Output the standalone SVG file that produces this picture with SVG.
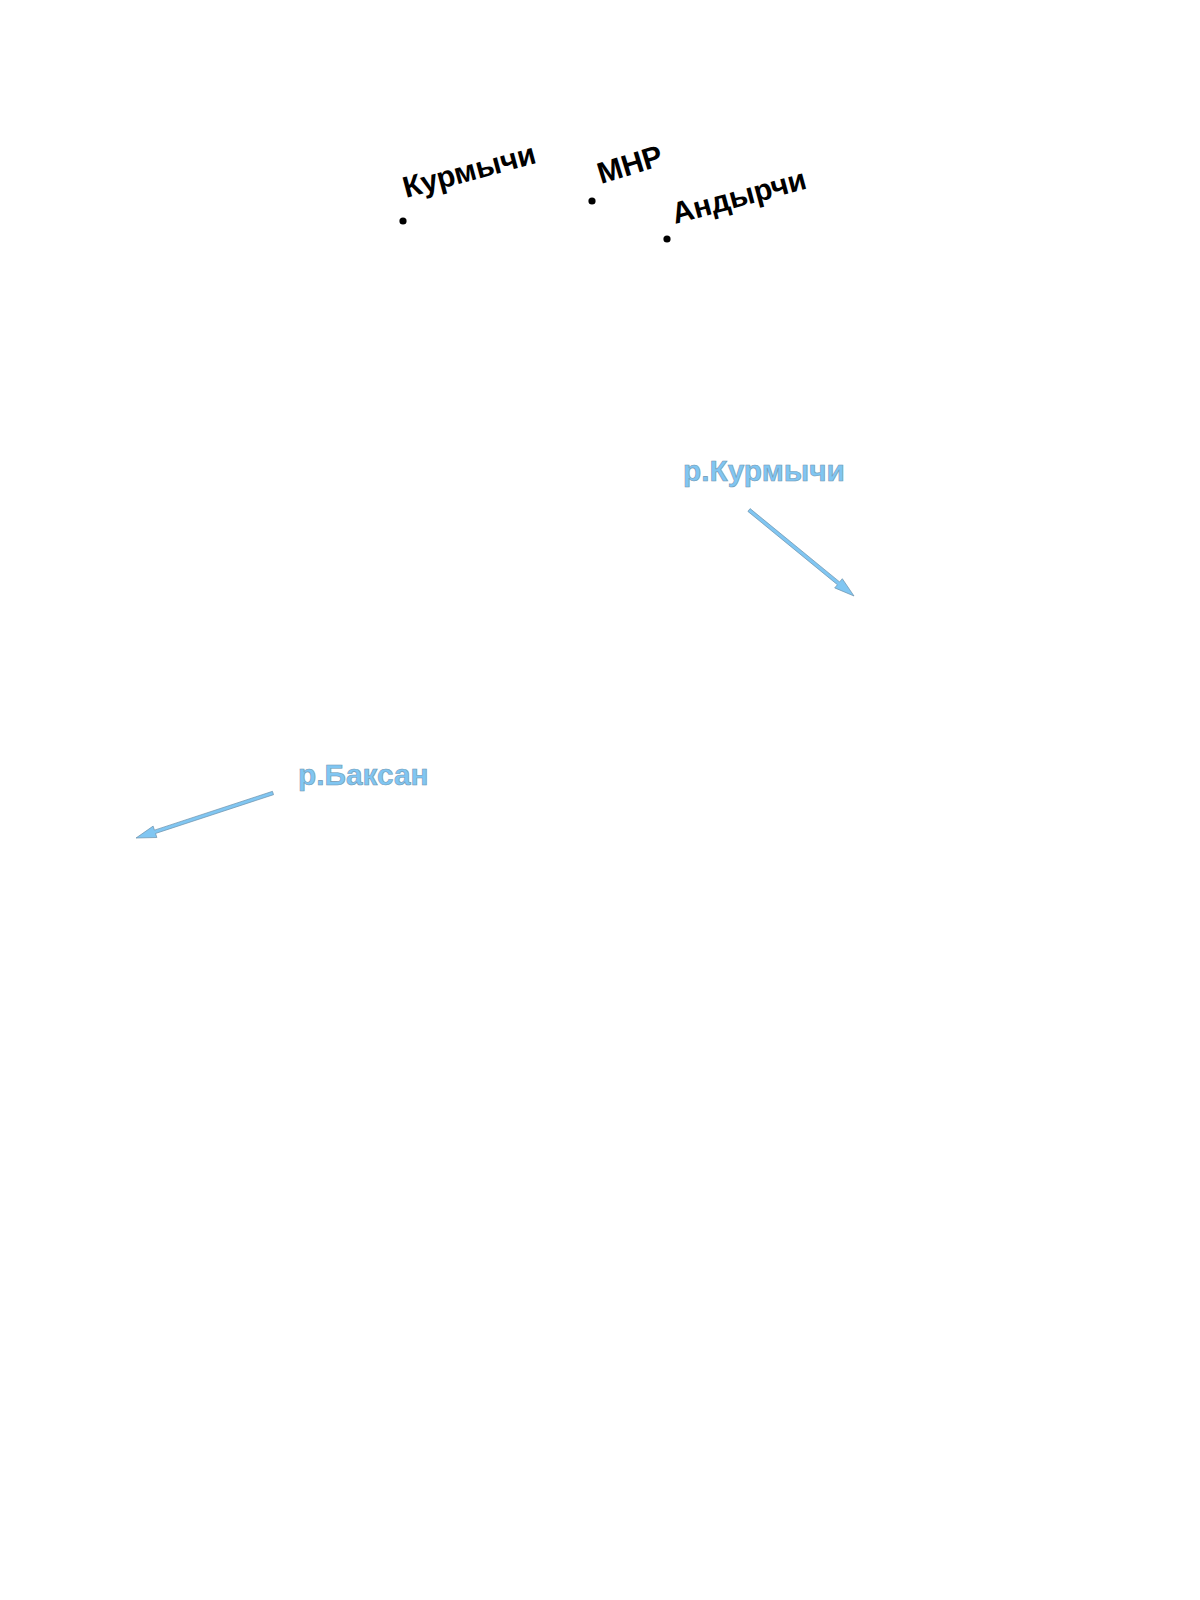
<svg xmlns="http://www.w3.org/2000/svg" width="1200" height="1600" viewBox="0 0 1200 1600">
<style>
.place{font-family:"Liberation Sans",Arial,sans-serif;font-weight:bold;font-size:30px;fill:#000}
.dot{fill:#000}
.river{font-family:"Liberation Sans",Arial,sans-serif;font-weight:bold;font-size:29.8px;fill:#80c6f2;stroke:#7197b2;stroke-width:0.6}
.flow{fill:#80c6f2;stroke:#6b90ab;stroke-width:0.7;stroke-linejoin:miter}
</style>
<rect width="1200" height="1600" fill="#fff"/>
<g id="kurmychi">
<circle class="dot" cx="403" cy="221" r="3.6"/>
<text class="place" transform="translate(406,198) rotate(-15)">Курмычи</text>
</g>
<g id="mnr">
<circle class="dot" cx="592" cy="201" r="3.6"/>
<text class="place" transform="translate(601,184) rotate(-17)">МНР</text>
</g>
<g id="andyrchi">
<circle class="dot" cx="667" cy="239" r="3.6"/>
<text class="place" transform="translate(675,224) rotate(-15)">Андырчи</text>
</g>
<g id="r-kurmychi">
<text class="river" x="683" y="481">р.Курмычи</text>
</g>
<g id="r-baksan">
<text class="river" x="298" y="785">р.Баксан</text>
</g>
<g id="connectors">
<path class="flow" d="M750.1,508.6 L839.6,581.9 L842.3,578.7 L854,596 L834.7,587.9 L837.4,584.7 L747.9,511.4 Z"/>
<path class="flow" d="M273.55,794.66 L155.55,833.46 L156.87,837.5 L136,838 L153.13,826.1 L154.45,830.14 L272.45,791.34 Z"/>
</g>
</svg>
